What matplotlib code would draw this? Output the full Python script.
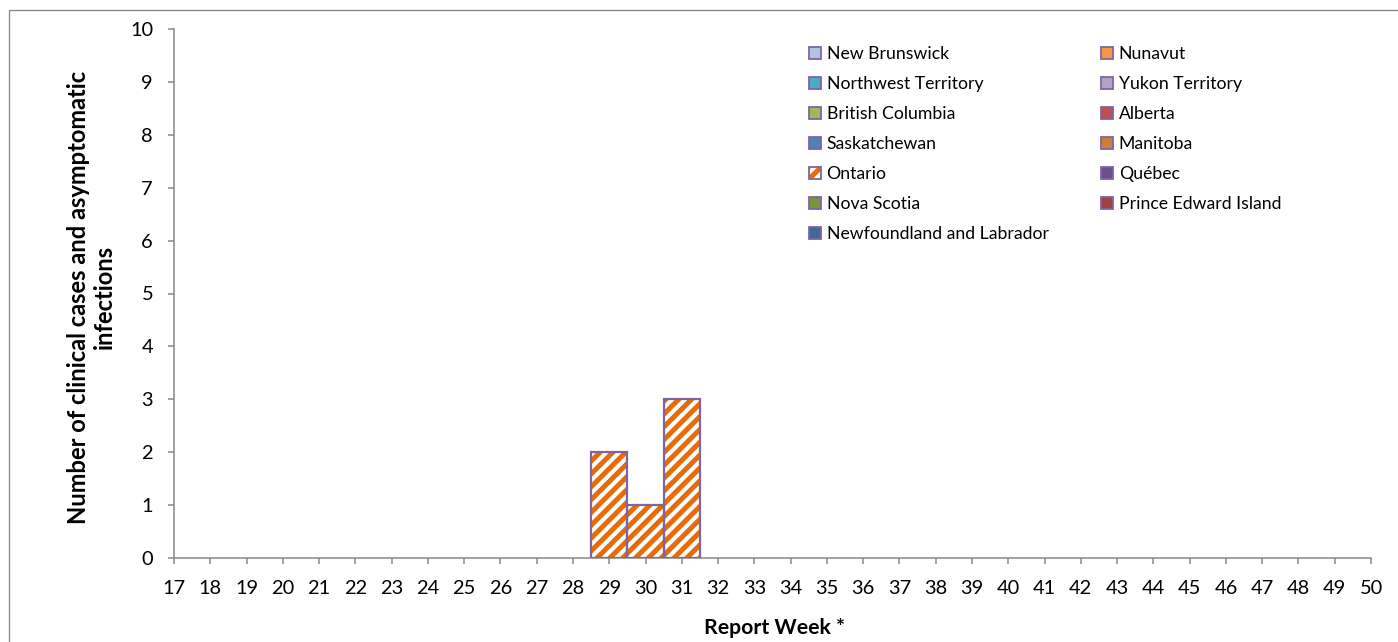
import matplotlib
matplotlib.use("Agg")
import matplotlib.pyplot as plt
from matplotlib.patches import Patch, Rectangle
from matplotlib.legend_handler import HandlerTuple

DPI = 77
W, H = 1398, 642


def pt(px):
    """Convert a pixel size to points at the figure resolution."""
    return px * 72.0 / DPI


# Report weeks shown on the x axis
weeks = [17, 18, 19, 20, 21, 22, 23, 24, 25, 26, 27, 28, 29, 30, 31, 32, 33,
         34, 35, 36, 37, 38, 39, 40, 41, 42, 43, 44, 45, 46, 47, 48, 49, 50]

# Weekly counts of clinical cases and asymptomatic infections
ontario = [0, 0, 0, 0, 0, 0, 0, 0, 0, 0, 0, 0, 2, 1, 3, 0, 0,
           0, 0, 0, 0, 0, 0, 0, 0, 0, 0, 0, 0, 0, 0, 0, 0, 0]
no_cases = [0, 0, 0, 0, 0, 0, 0, 0, 0, 0, 0, 0, 0, 0, 0, 0, 0,
            0, 0, 0, 0, 0, 0, 0, 0, 0, 0, 0, 0, 0, 0, 0, 0, 0]

# Provinces / territories in legend (row-major) order
provinces = ["New Brunswick", "Nunavut", "Northwest Territory", "Yukon Territory",
             "British Columbia", "Alberta", "Saskatchewan", "Manitoba",
             "Ontario", "Québec", "Nova Scotia", "Prince Edward Island",
             "Newfoundland and Labrador"]
province_counts = {
    "New Brunswick": no_cases, "Nunavut": no_cases,
    "Northwest Territory": no_cases, "Yukon Territory": no_cases,
    "British Columbia": no_cases, "Alberta": no_cases,
    "Saskatchewan": no_cases, "Manitoba": no_cases,
    "Ontario": ontario, "Québec": no_cases, "Nova Scotia": no_cases,
    "Prince Edward Island": no_cases, "Newfoundland and Labrador": no_cases,
}
fill_colors = ["#B3C3E0", "#F79646", "#4BACC6", "#B3A2C7",
               "#9BBB59", "#C0504D", "#4F81BD", "#D07D3A",
               None, "#6B4F8E", "#77933C", "#A0413E", "#3E6AA0"]

EDGE = "#8064A2"
HATCH = "#E46C0A"
AXIS_GREY = "#868686"

plt.rcParams["font.family"] = ["Lato", "DejaVu Sans"]
plt.rcParams["hatch.linewidth"] = pt(5.0)

fig = plt.figure(figsize=(W / DPI, H / DPI), dpi=DPI)
fig.patch.set_facecolor("white")

# outer chart-area border
fig.add_artist(Rectangle((9 / W, -0.5), 2.0, 0.5 + (H - 10.5) / H,
                         transform=fig.transFigure, fill=False,
                         edgecolor=AXIS_GREY, linewidth=pt(1.3), zorder=0))

ax = fig.add_axes([174 / W, (H - 558) / H, (1371 - 174) / W, (558 - 29) / H])

bottom = [0] * len(weeks)
for name, color in zip(provinces, fill_colors):
    counts = province_counts[name]
    xs = [w for w, c in zip(weeks, counts) if c > 0]
    hs = [c for c in counts if c > 0]
    bs = [b for b, c in zip(bottom, counts) if c > 0]
    if xs:
        if color is None:
            ax.bar(xs, hs, width=1.0, bottom=bs, color="white",
                   edgecolor=HATCH, hatch="//", linewidth=0, zorder=2)
            ax.bar(xs, hs, width=1.0, bottom=bs, fill=False,
                   edgecolor=EDGE, linewidth=pt(2.2), zorder=3)
        else:
            ax.bar(xs, hs, width=1.0, bottom=bs, color=color,
                   edgecolor=EDGE, linewidth=pt(2.2), zorder=3)
    bottom = [b + c for b, c in zip(bottom, counts)]

ax.set_xlim(weeks[0], weeks[-1])
ax.set_ylim(0, 10)
ax.set_xticks(weeks)
ax.set_xticklabels([str(w) for w in weeks])
ax.set_yticks(range(0, 11))

for side in ("top", "right"):
    ax.spines[side].set_visible(False)
for side in ("left", "bottom"):
    ax.spines[side].set_color(AXIS_GREY)
    ax.spines[side].set_linewidth(pt(1.5))

ax.tick_params(axis="both", direction="out", length=pt(6), width=pt(1.5),
               color=AXIS_GREY, labelsize=pt(20), labelcolor="black")
ax.tick_params(axis="x", pad=pt(16))
ax.tick_params(axis="y", pad=pt(15))

fig.text(775 / W, (H - 634) / H, "Report Week *", fontsize=pt(21.3),
         fontweight="bold", ha="center", va="baseline")
fig.text(91 / W, (H - 297) / H,
         "Number of clinical cases and asymptomatic\ninfections",
         fontsize=pt(23.8), fontweight="bold", rotation=90,
         ha="center", va="center", multialignment="center", linespacing=1.15)

# legend handles, filled column-major so the reading order is row-major
handles = []
for name, color in zip(provinces, fill_colors):
    if color is None:
        h = (Patch(facecolor="white", edgecolor=HATCH, hatch="//", linewidth=0),
             Patch(fill=False, edgecolor=EDGE, linewidth=pt(1.8)))
    else:
        h = Patch(facecolor=color, edgecolor=EDGE, linewidth=pt(1.8))
    handles.append(h)

order = list(range(0, len(provinces), 2)) + list(range(1, len(provinces), 2))
leg = fig.legend([handles[i] for i in order], [provinces[i] for i in order],
                 loc="upper left", bbox_to_anchor=(809 / W, (H - 46) / H),
                 ncol=2, frameon=False, fontsize=pt(17.6),
                 handlelength=0.7, handleheight=0.7, handletextpad=0.3,
                 labelspacing=0.8, columnspacing=2.98, borderpad=0,
                 borderaxespad=0,
                 handler_map={tuple: HandlerTuple(ndivide=1, pad=0)})

fig.savefig("out.png", dpi=DPI)
